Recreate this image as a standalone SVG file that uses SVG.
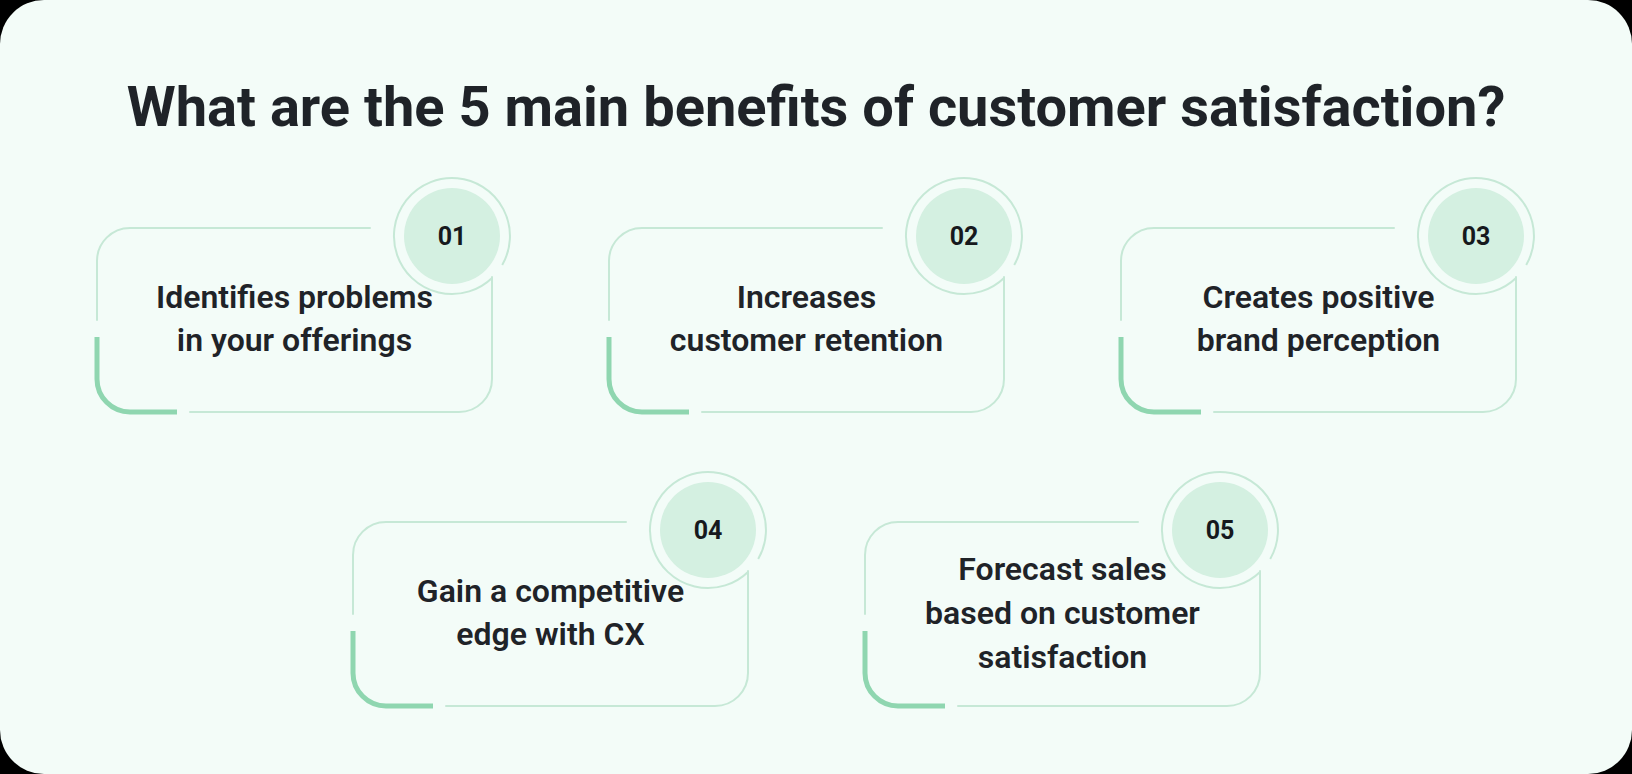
<svg xmlns="http://www.w3.org/2000/svg" width="1632" height="774" viewBox="0 0 1632 774">
<style>
.bg{fill:#f3fcf8}
.lt{fill:none;stroke:#c6e8d6;stroke-width:2;stroke-linecap:round}
.gr{fill:none;stroke:#8fd6b0;stroke-width:5;stroke-linecap:butt}
.ring{fill:none;stroke:#c6e8d6;stroke-width:2}
.dot{fill:#d4f0e1}
.num{font-family:Roboto,"Liberation Sans",sans-serif;font-weight:700;font-size:25px;fill:#16191d;text-anchor:middle}
.txt{font-family:Roboto,"Liberation Sans",sans-serif;font-weight:600;font-size:32px;fill:#1f2328;text-anchor:middle}
.title{font-family:Roboto,"Liberation Sans",sans-serif;font-weight:700;font-size:56px;fill:#1f2328;text-anchor:middle}
</style>
<defs>
<g id="card">
<path class="lt" d="M0,92 V33 A33,33 0 0 1 33,0 H273"/>
<path class="lt" d="M395,49 V151 A33,33 0 0 1 362,184 H93"/>
<path class="gr" d="M0,109 V151 A33,33 0 0 0 33,184 H80"/>
<path class="ring" d="M405.2,37 A58,58 0 1 0 395.3,49.7"/>
<circle class="dot" cx="355" cy="8" r="48"/>
</g>
</defs>
<rect width="1632" height="774" fill="#000"/>
<rect class="bg" width="1632" height="774" rx="44"/>
<text class="title" x="816" y="126">What are the 5 main benefits of customer satisfaction?</text>
<g id="node1" transform="translate(97,228)">
<use href="#card"/>
<text class="num" x="355" y="17">01</text>
<text class="txt" x="197.5" y="79.5">Identifies problems</text>
<text class="txt" x="197.5" y="123">in your offerings</text>
</g>
<g id="node2" transform="translate(609,228)">
<use href="#card"/>
<text class="num" x="355" y="17">02</text>
<text class="txt" x="197.5" y="79.5">Increases</text>
<text class="txt" x="197.5" y="123">customer retention</text>
</g>
<g id="node3" transform="translate(1121,228)">
<use href="#card"/>
<text class="num" x="355" y="17">03</text>
<text class="txt" x="197.5" y="79.5">Creates positive</text>
<text class="txt" x="197.5" y="123">brand perception</text>
</g>
<g id="node4" transform="translate(353,522)">
<use href="#card"/>
<text class="num" x="355" y="17">04</text>
<text class="txt" x="197.5" y="79.5">Gain a competitive</text>
<text class="txt" x="197.5" y="123">edge with CX</text>
</g>
<g id="node5" transform="translate(865,522)">
<use href="#card"/>
<text class="num" x="355" y="17">05</text>
<text class="txt" x="197.5" y="57.5">Forecast sales</text>
<text class="txt" x="197.5" y="102">based on customer</text>
<text class="txt" x="197.5" y="146">satisfaction</text>
</g>
<g id="connectors"/>
</svg>
